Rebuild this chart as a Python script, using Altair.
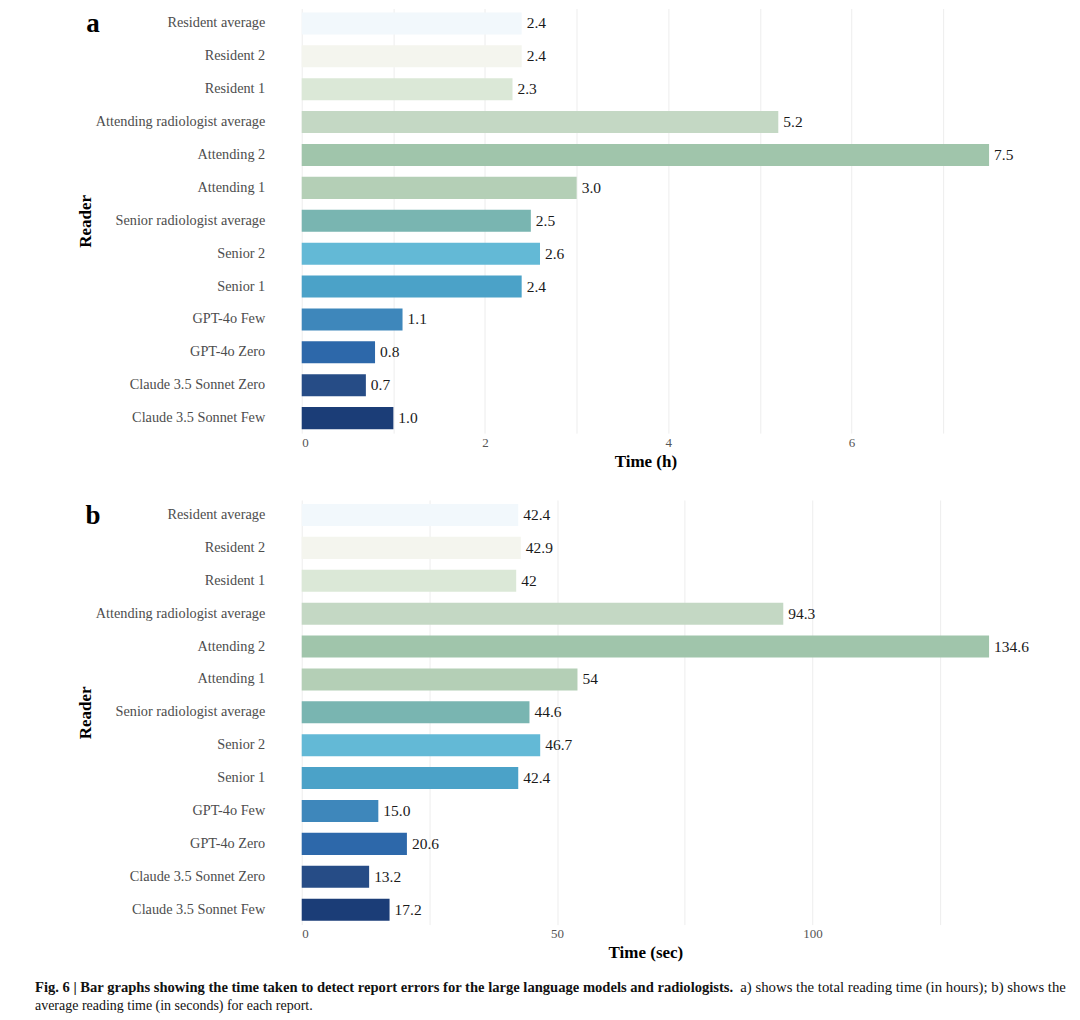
import altair as alt
import pandas as pd

readers = ["Resident average", "Resident 2", "Resident 1",
           "Attending radiologist average", "Attending 2", "Attending 1",
           "Senior radiologist average", "Senior 2", "Senior 1",
           "GPT-4o Few", "GPT-4o Zero", "Claude 3.5 Sonnet Zero", "Claude 3.5 Sonnet Few"]
hours = [2.4, 2.4, 2.3, 5.2, 7.5, 3.0, 2.5, 2.6, 2.4, 1.1, 0.8, 0.7, 1.0]
hours_labels = ["2.4", "2.4", "2.3", "5.2", "7.5", "3.0", "2.5", "2.6", "2.4", "1.1", "0.8", "0.7", "1.0"]
seconds = [42.4, 42.9, 42, 94.3, 134.6, 54, 44.6, 46.7, 42.4, 15.0, 20.6, 13.2, 17.2]
seconds_labels = ["42.4", "42.9", "42", "94.3", "134.6", "54", "44.6", "46.7", "42.4", "15.0", "20.6", "13.2", "17.2"]
colors = ["#f2f8fc", "#f4f5ee", "#dbe8d7", "#c4d8c4", "#a0c5ab", "#b4cfb6", "#79b5b1",
          "#63b9d6", "#4ba2c8", "#3e87bb", "#2d68aa", "#264c86", "#1b3d77"]
hour_ticks = [0, 1, 2, 3, 4, 5, 6, 7]
sec_ticks = [0, 25, 50, 75, 100, 125]
caption_bold = "Fig. 6 | Bar graphs showing the time taken to detect report errors for the large language models and radiologists."
caption_rest1 = "a) shows the total reading time (in hours); b) shows the"
caption_rest2 = "average reading time (in seconds) for each report."

FONT = "Liberation Serif"
W, H = 688, 425


def panel(values, labels, tag, xtitle, ticks, label_every, xmax, caption=False):
    df = pd.DataFrame({"Reader": readers, "v": values, "lab": labels})
    base = alt.Chart(df)
    y = alt.Y("Reader:N", sort=readers,
              scale=alt.Scale(paddingInner=0.33, paddingOuter=0.12),
              axis=alt.Axis(title="Reader", grid=False, domain=False, ticks=False, tickSize=0,
                            labelPadding=37, labelFontSize=14.3, labelColor="#4d4d4d",
                            labelFont=FONT, titleFont=FONT, titleFontSize=17,
                            titleFontWeight="bold", titleColor="#000000", titlePadding=7))
    x = alt.X("v:Q", scale=alt.Scale(domain=[0, xmax], nice=False, zero=True),
              axis=alt.Axis(title=xtitle, values=ticks, format="d",
                            labelExpr=f"datum.value % {label_every} === 0 ? datum.label : ''",
                            grid=True, gridColor="#ededed", domain=False, ticks=False, tickSize=0,
                            labelPadding=3, labelFontSize=13, labelColor="#555555",
                            labelFont=FONT, titleFont=FONT, titleFontSize=17,
                            titleFontWeight="bold", titleColor="#000000", titlePadding=4))
    bars = base.mark_bar().encode(
        x=x, y=y,
        color=alt.Color("Reader:N", scale=alt.Scale(domain=readers, range=colors), legend=None),
    )
    text = base.mark_text(align="left", baseline="middle", dx=5, font=FONT,
                          fontSize=15.5, color="#1a1a1a").encode(
        x="v:Q", y=alt.Y("Reader:N", sort=readers), text="lab:N")
    tag_df = pd.DataFrame({"t": [tag]})
    tag_mark = alt.Chart(tag_df).mark_text(align="center", baseline="middle", font=FONT,
                                           fontSize=27, fontWeight="bold", color="#000000").encode(
        text="t:N", x=alt.value(-209), y=alt.value(16))
    layers = [bars, text, tag_mark]
    if caption:
        cap_df = pd.DataFrame({"t": [caption_bold]})
        layers.append(alt.Chart(cap_df).mark_text(align="left", baseline="middle", font=FONT,
                                                  fontSize=14.6, fontWeight="bold", color="#111111").encode(
            text="t:N", x=alt.value(-267), y=alt.value(488)))
        cap_df2 = pd.DataFrame({"t": [caption_rest1]})
        layers.append(alt.Chart(cap_df2).mark_text(align="left", baseline="middle", font=FONT,
                                                   fontSize=14.8, color="#111111").encode(
            text="t:N", x=alt.value(439), y=alt.value(488)))
        cap_df3 = pd.DataFrame({"t": [caption_rest2]})
        layers.append(alt.Chart(cap_df3).mark_text(align="left", baseline="middle", font=FONT,
                                                   fontSize=14, color="#111111").encode(
            text="t:N", x=alt.value(-267), y=alt.value(506)))
    return alt.layer(*layers).properties(width=W, height=H)


pa = panel(hours, hours_labels, "a", "Time (h)", hour_ticks, 2, 7.5)
pb = panel(seconds, seconds_labels, "b", "Time (sec)", sec_ticks, 50, 134.6, caption=True)

chart = alt.vconcat(pa, pb, spacing=67, bounds="flush").properties(
    padding={"left": 27, "top": 0, "right": 5, "bottom": 5}
).configure(font=FONT).configure_view(strokeWidth=0, stroke="transparent")

chart.save("out.html", embed_options={"renderer": "svg", "actions": False})
